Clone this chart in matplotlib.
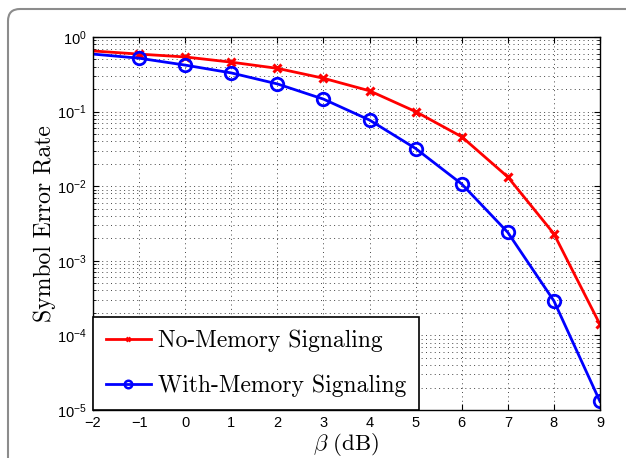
import numpy as np
import matplotlib
matplotlib.use("Agg")
import matplotlib.pyplot as plt
from matplotlib.patches import FancyBboxPatch
from matplotlib.legend_handler import HandlerLine2D
from matplotlib.ticker import LogLocator, NullFormatter

plt.rcParams["font.family"] = ["Liberation Sans", "DejaVu Sans"]
plt.rcParams["mathtext.fontset"] = "custom"
plt.rcParams["mathtext.rm"] = "Liberation Sans"
plt.rcParams["mathtext.it"] = "Liberation Sans:italic"

# data
beta_db = [-2, -1, 0, 1, 2, 3, 4, 5, 6, 7, 8, 9]
ser_no_memory = [0.65, 0.59, 0.54, 0.46, 0.38, 0.28, 0.19, 0.10, 0.046, 0.0133, 0.0023, 1.4e-4]
ser_with_memory = [0.59, 0.52, 0.42, 0.33, 0.235, 0.147, 0.077, 0.032, 0.0107, 0.0024, 2.9e-4, 1.3e-5]
legend_labels = ["No-Memory Signaling", "With-Memory Signaling"]

fig = plt.figure(figsize=(6.26, 4.58), dpi=100)

# rounded panel border (display coords, runs off right and bottom)
frame = FancyBboxPatch((8, -200), 800, 458 - 9 + 200,
                       boxstyle="round,pad=0,rounding_size=12",
                       transform=None, fill=False,
                       edgecolor="#8c8c8c", linewidth=1.5)
fig.patches.append(frame)

ax = fig.add_axes([93 / 626, 1 - 410 / 458, 507 / 626, 373 / 458])

ax.semilogy(beta_db, ser_no_memory, color="red", linewidth=2.0, marker="x",
            markersize=6, markeredgewidth=2.2, markevery=slice(1, None),
            label=legend_labels[0])
ax.semilogy(beta_db, ser_with_memory, color="blue", linewidth=2.0, marker="o",
            markersize=9, markeredgewidth=2, markerfacecolor="none",
            markevery=slice(1, None), label=legend_labels[1])

ax.set_xlim(-2, 9)
ax.set_ylim(1e-5, 1)
ax.set_xticks(np.arange(-2, 10, 1))
ax.yaxis.set_major_locator(LogLocator(base=10, numticks=10))
ax.yaxis.set_minor_locator(LogLocator(base=10, subs=np.arange(2, 10), numticks=20))
ax.yaxis.set_minor_formatter(NullFormatter())

ax.grid(which="major", axis="both", linestyle=(0, (1, 3.5)), color="#444444", linewidth=0.7)
ax.grid(which="minor", axis="y", linestyle=(0, (1, 3.5)), color="#444444", linewidth=0.7)

ax.tick_params(which="both", direction="in", top=True, right=True, labelsize=10.5)
ax.tick_params(which="major", length=4, width=0.8, pad=4.5)
ax.tick_params(which="minor", length=2, width=0.6)
for s in ax.spines.values():
    s.set_linewidth(1.0)

ax.set_ylabel("Symbol Error Rate", family="cmr10", fontsize=17, labelpad=1)
ax.set_xlabel(r"$\beta\ (\mathrm{dB})$", math_fontfamily="cm", fontsize=16.5)
ax.xaxis.label.set_va("center")
ax.xaxis.set_label_coords(0.5, -34.5 / 373)


# legend markers are drawn smaller than in the plot
def small_marker(handle, orig):
    handle.update_from(orig)
    handle.set_markersize(orig.get_markersize() * 0.6)
    handle.set_markeredgewidth(1.8)


leg = ax.legend(loc="lower left", borderaxespad=0, fancybox=False,
                prop={"family": "cmr10", "size": 17}, handlelength=1.9,
                borderpad=0.55, labelspacing=0.95, handletextpad=0.3,
                handler_map={plt.Line2D: HandlerLine2D(update_func=small_marker)})
leg.get_frame().set_edgecolor("black")
leg.get_frame().set_linewidth(1.2)
leg.get_frame().set_alpha(1)

fig.savefig("out.png", dpi=100)
